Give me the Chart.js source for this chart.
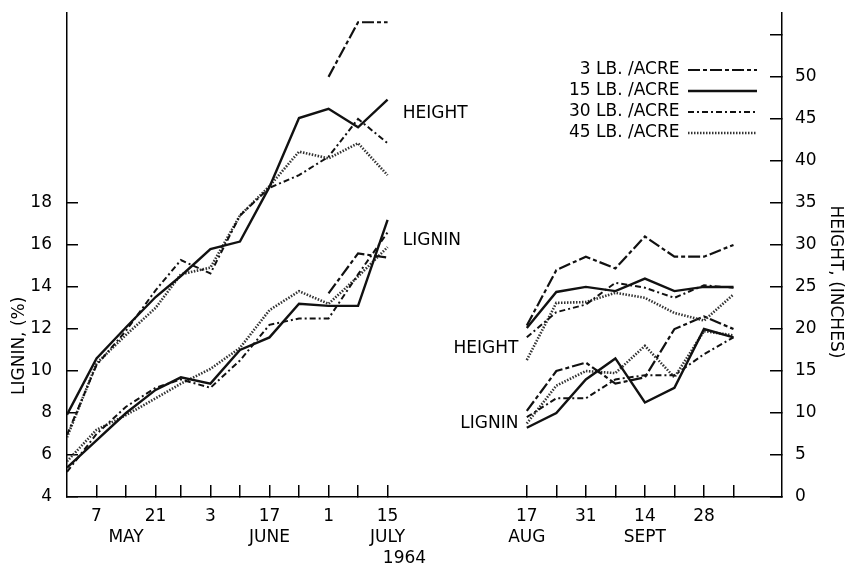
<!DOCTYPE html>
<html>
<head>
<meta charset="utf-8">
<script src="https://cdn.jsdelivr.net/npm/chart.js@4.4.0/dist/chart.umd.min.js"></script>
<style>
  html, body { margin: 0; padding: 0; background: #fff; }
</style>
</head>
<body>
<canvas id="chart" width="847" height="569"></canvas>
<script>
// sampling dates, in days counted from April 30, 1964
const springDays = [0, 7, 14, 21, 27, 34, 41, 48, 55, 62, 69, 76];
const fallDays = [109, 116, 123, 130, 137, 144, 151, 158];

const tickDays = [7, 14, 21, 27, 34, 41, 48, 55, 62, 69, 76, 109, 116, 123, 130, 137, 144, 151, 158];
const dayLabels = ['7', '', '21', '', '3', '', '17', '', '1', '', '15', '17', '', '31', '', '14', '', '28', ''];
const monthLabels = ['', 'MAY', '', '', '', '', 'JUNE', '', '', '', 'JULY', 'AUG', '', '', '', 'SEPT', '', '', ''];

const ligninTicks = [4, 6, 8, 10, 12, 14, 16, 18];
const heightTicks = [0, 5, 10, 15, 20, 25, 30, 35, 40, 45, 50, 55];

const treatments = ['3 LB. /ACRE', '15 LB. /ACRE', '30 LB. /ACRE', '45 LB. /ACRE'];

// height, inches
const height3Spring = [null, null, null, null, null, null, null, null, null, 50.0, 56.5, 56.5];
const height3Fall = [20.4, 27.0, 28.6, 27.2, 31.0, 28.6, 28.6, 30.0];
const height15Spring = [9.8, 16.5, 20.2, 23.8, 26.3, 29.5, 30.4, 36.9, 45.1, 46.2, 44.0, 47.3];
const height15Fall = [20.1, 24.4, 25.0, 24.5, 26.0, 24.5, 25.0, 25.0];
const height30Spring = [7.4, 15.7, 19.8, 24.6, 28.2, 26.6, 33.5, 36.8, 38.3, 40.5, 45.0, 42.1];
const height30Fall = [19.0, 22.0, 22.9, 25.5, 24.9, 23.7, 25.2, 24.9];
const height45Spring = [7.1, 15.9, 19.3, 22.5, 26.5, 27.3, 33.5, 37.0, 41.1, 40.3, 42.1, 38.3];
const height45Fall = [16.3, 23.1, 23.2, 24.3, 23.7, 21.9, 21.0, 24.1];

// lignin, %
const lignin3Spring = [null, null, null, null, null, null, null, null, null, 13.7, 15.6, 15.4];
const lignin3Fall = [8.1, 10.0, 10.4, 9.4, 9.7, 12.0, 12.6, 12.0];
const lignin15Spring = [5.4, 6.7, 8.0, 9.1, 9.7, 9.4, 11.0, 11.6, 13.2, 13.1, 13.1, 17.2];
const lignin15Fall = [7.3, 8.0, 9.6, 10.6, 8.5, 9.2, 12.0, 11.6];
const lignin30Spring = [5.2, 7.0, 8.3, 9.2, 9.6, 9.2, 10.5, 12.2, 12.5, 12.5, 14.6, 16.6];
const lignin30Fall = [7.8, 8.7, 8.7, 9.6, 9.8, 9.8, 10.8, 11.6];
const lignin45Spring = [5.7, 7.2, 7.9, 8.7, 9.4, 10.1, 11.1, 12.9, 13.8, 13.2, 14.5, 15.9];
const lignin45Fall = [7.5, 9.3, 10.0, 9.9, 11.2, 9.7, 11.9, 11.7];

const heights = [
  [height3Spring, height3Fall],
  [height15Spring, height15Fall],
  [height30Spring, height30Fall],
  [height45Spring, height45Fall]
];
const lignins = [
  [lignin3Spring, lignin3Fall],
  [lignin15Spring, lignin15Fall],
  [lignin30Spring, lignin30Fall],
  [lignin45Spring, lignin45Fall]
];

// one line per treatment, broken between July and August
function points(spring, fall) {
  const pts = springDays.map((d, i) => ({ x: d, y: spring[i] }));
  pts.push({ x: (springDays[springDays.length - 1] + fallDays[0]) / 2, y: null });
  return pts.concat(fallDays.map((d, i) => ({ x: d, y: fall[i] })));
}

const lineStyles = [
  { borderDash: [12, 3, 4, 3], borderWidth: 2.2, borderColor: '#111' },
  { borderDash: [], borderWidth: 2.4, borderColor: '#111' },
  { borderDash: [6, 3, 2, 3], borderWidth: 2, borderColor: '#111' },
  { borderDash: [1.5, 1.5], borderWidth: 2.6, borderColor: '#333' }
];

const datasets = [];
treatments.forEach((name, i) => {
  datasets.push({ label: name, data: points(heights[i][0], heights[i][1]), yAxisID: 'yH', ...lineStyles[i] });
});
treatments.forEach((name, i) => {
  datasets.push({ label: name + ' lignin', data: points(lignins[i][0], lignins[i][1]), yAxisID: 'yL', ...lineStyles[i] });
});

const FONT = 'DejaVu Sans';

// put the legend inside the plot, top right
const legendSpot = {
  id: 'legendSpot',
  afterLayout(chart) {
    const lg = chart.legend;
    const right = chart.chartArea.right - 21;
    lg.left = right - lg.width;
    lg.right = right;
    lg.top = chart.chartArea.top + 44.5;
    lg.bottom = lg.top + 200;
  }
};

// free text: curve group names, year, axis titles
const textMarks = {
  id: 'textMarks',
  afterDraw(chart) {
    const { ctx } = chart;
    const x = chart.scales.x, yL = chart.scales.yL, yH = chart.scales.yH;
    ctx.save();
    ctx.fillStyle = '#000';
    ctx.font = '17px "' + FONT + '"';
    ctx.textBaseline = 'middle';
    ctx.textAlign = 'left';
    ctx.fillText('HEIGHT', x.getPixelForValue(79.6), yH.getPixelForValue(45.6));
    ctx.fillText('LIGNIN', x.getPixelForValue(79.6), yL.getPixelForValue(16.2));
    ctx.textAlign = 'right';
    ctx.fillText('HEIGHT', x.getPixelForValue(107), yH.getPixelForValue(17.7));
    ctx.fillText('LIGNIN', x.getPixelForValue(107), yL.getPixelForValue(7.5));
    ctx.textAlign = 'center';
    ctx.fillText('1964', x.getPixelForValue(80), chart.height - 10);

    ctx.save();
    ctx.translate(20, yL.getPixelForValue(11.2));
    ctx.rotate(-Math.PI / 2);
    ctx.fillText('LIGNIN, (%)', 0, 0);
    ctx.restore();

    ctx.save();
    ctx.translate(835, yH.getPixelForValue(25.6));
    ctx.rotate(Math.PI / 2);
    ctx.fillText('HEIGHT, (INCHES)', 0, 0);
    ctx.restore();
    ctx.restore();
  }
};

const tickFont = { family: FONT, size: 17, lineHeight: '21px' };
const axisGrid = { display: true, drawOnChartArea: false, drawTicks: true, tickLength: -12, color: '#000', lineWidth: 1.5 };
const axisBorder = { display: true, color: '#000', width: 1.5 };

function noEdgePadding(s) {
  s.paddingTop = 0;
  s.paddingBottom = 0;
  s.paddingLeft = 0;
  s.paddingRight = 0;
}

new Chart(document.getElementById('chart'), {
  type: 'line',
  data: { datasets: datasets },
  options: {
    responsive: false,
    animation: false,
    devicePixelRatio: 1,
    spanGaps: false,
    elements: { point: { radius: 0 }, line: { tension: 0, fill: false } },
    layout: { padding: { top: 13, left: 0, right: 0, bottom: 0 } },
    plugins: {
      tooltip: { enabled: false },
      legend: {
        position: 'chartArea',
        align: 'start',
        rtl: true,
        labels: {
          generateLabels: (chart) => Chart.defaults.plugins.legend.labels.generateLabels(chart).map(item => {
            const ds = chart.data.datasets[item.datasetIndex];
            return { ...item, lineDash: ds.borderDash, lineWidth: ds.borderWidth, strokeStyle: ds.borderColor };
          }),
          filter: (item) => item.datasetIndex < treatments.length,
          usePointStyle: true,
          pointStyle: 'line',
          pointStyleWidth: 69,
          boxHeight: 17,
          padding: 4,
          color: '#000',
          font: { family: FONT, size: 17 }
        }
      }
    },
    scales: {
      x: {
        type: 'linear',
        min: 0,
        max: 169.5,
        afterBuildTicks: (s) => { s.ticks = tickDays.map(v => ({ value: v })); },
        afterFit: (s) => { s.height = 72; noEdgePadding(s); },
        ticks: {
          autoSkip: false,
          maxRotation: 0,
          padding: 21.5,
          color: '#000',
          font: tickFont,
          callback: (v, i) => [dayLabels[i], monthLabels[i]]
        },
        grid: axisGrid,
        border: axisBorder
      },
      yL: {
        position: 'left',
        min: 4,
        max: 27.05,
        afterBuildTicks: (s) => { s.ticks = ligninTicks.map(v => ({ value: v })); },
        afterFit: (s) => { s.width = 67; noEdgePadding(s); },
        ticks: { padding: 26, color: '#000', font: tickFont },
        grid: { ...axisGrid, tickLength: -11 },
        border: axisBorder
      },
      yH: {
        position: 'right',
        min: 0,
        max: 57.6,
        afterBuildTicks: (s) => { s.ticks = heightTicks.map(v => ({ value: v })); },
        afterFit: (s) => { s.width = 65; noEdgePadding(s); },
        ticks: {
          padding: 25,
          color: '#000',
          font: tickFont,
          callback: (v) => (v <= 50 ? String(v) : '')
        },
        grid: axisGrid,
        border: axisBorder
      }
    }
  },
  plugins: [legendSpot, textMarks]
});
</script>
</body>
</html>
